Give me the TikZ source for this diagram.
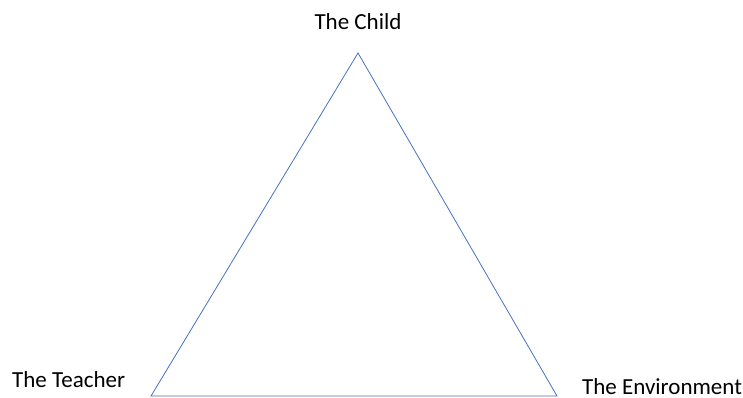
\documentclass[tikz,border=0pt]{standalone}
\usepackage{fontspec}
\setmainfont{Carlito}
\definecolor{edgeblue}{HTML}{4472C4}

\begin{document}
\begin{tikzpicture}[x=1pt,y=1pt,
    corner/.style={inner sep=0pt,font=\fontsize{23}{27}\selectfont}]
    \useasboundingbox (0,0) rectangle (743,397);

    \coordinate (top) at (358,344);
    \coordinate (left) at (151,1);
    \coordinate (right) at (557,1);
    \draw[edgeblue,line width=0.8pt,line join=miter] (top) -- (right) -- (left) -- cycle;

    \node[corner,anchor=base] (child) at (358,367) {The Child};
    \node[corner,anchor=base west] (teacher) at (12,10) {The Teacher};
    \node[corner,anchor=base west] (environment) at (582,3) {The Environment};
  \end{tikzpicture}
\end{document}
